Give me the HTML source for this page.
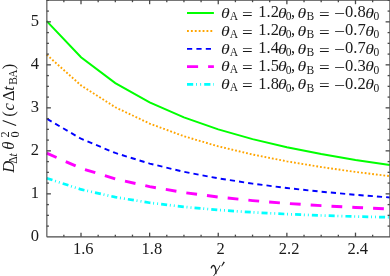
<!DOCTYPE html>
<html><head><meta charset="utf-8"><style>
html,body{margin:0;padding:0;background:#fff;}
body{width:390px;height:276px;overflow:hidden;}
svg{display:block;will-change:transform;}
text{font-family:"Liberation Serif",serif;font-size:16.5px;fill:#1a1a1a;}
.i{font-style:italic;}
.sub{font-size:11.5px;}
.sub2{font-size:12.3px;}
.th2{font-size:16.8px;}
.lg{font-size:16.5px;}
.th{font-size:15.3px;}
</style></head><body>
<svg width="390" height="276" viewBox="0 0 390 276">
<rect width="390" height="276" fill="#fff"/>
<g>
<polyline points="46.70,21.12 81.01,57.29 115.32,83.09 149.63,102.40 183.94,117.39 218.25,129.35 252.56,139.11 286.87,147.22 321.18,154.06 355.49,159.90 389.80,164.94" fill="none" stroke="#00ff00" stroke-width="2.0"/>
<polyline points="46.70,54.71 81.01,85.39 115.32,107.25 149.63,123.58 183.94,136.24 218.25,146.32 252.56,154.53 286.87,161.34 321.18,167.06 355.49,171.94 389.80,176.14" fill="none" stroke="#ffa500" stroke-width="1.9" stroke-dasharray="1.8 1.961"/>
<polyline points="46.70,118.68 81.01,138.73 115.32,152.98 149.63,163.60 183.94,171.82 218.25,178.35 252.56,183.64 286.87,188.02 321.18,191.69 355.49,194.80 389.80,197.46" fill="none" stroke="#0000ff" stroke-width="1.9" stroke-dasharray="5.2 4.05" stroke-dashoffset="-0.5"/>
<polyline points="46.70,153.15 81.01,168.31 115.32,178.92 149.63,186.67 183.94,192.52 218.25,197.04 252.56,200.58 286.87,203.40 321.18,205.66 355.49,207.48 389.80,208.95" fill="none" stroke="#ff00ff" stroke-width="2.9" stroke-dasharray="10.8 10.03"/>
<polyline points="46.70,178.21 81.01,189.43 115.32,197.18 149.63,202.76 183.94,206.88 218.25,209.97 252.56,212.33 286.87,214.12 321.18,215.49 355.49,216.53 389.80,217.30" fill="none" stroke="#00ffff" stroke-width="2.7" stroke-dasharray="6.05 2.75 0.9 3.1 0.9 3.1"/>
</g>
<g stroke="#484848" stroke-width="1.3" fill="none">
<line x1="46.70" y1="0" x2="46.70" y2="236.85" stroke-width="1.1" transform="translate(0.15,0)"/>
<line x1="46.70" y1="236.85" x2="390" y2="236.85"/>
<line x1="46.70" y1="0.2" x2="390" y2="0.2"/>
<line x1="390" y1="0" x2="390" y2="236.85"/>
<line x1="63.86" y1="236.85" x2="63.86" y2="234.65"/>
<line x1="63.86" y1="0.00" x2="63.86" y2="2.20"/>
<line x1="81.01" y1="236.85" x2="81.01" y2="232.65"/>
<line x1="81.01" y1="0.00" x2="81.01" y2="4.20"/>
<line x1="98.16" y1="236.85" x2="98.16" y2="234.65"/>
<line x1="98.16" y1="0.00" x2="98.16" y2="2.20"/>
<line x1="115.32" y1="236.85" x2="115.32" y2="234.65"/>
<line x1="115.32" y1="0.00" x2="115.32" y2="2.20"/>
<line x1="132.48" y1="236.85" x2="132.48" y2="234.65"/>
<line x1="132.48" y1="0.00" x2="132.48" y2="2.20"/>
<line x1="149.63" y1="236.85" x2="149.63" y2="232.65"/>
<line x1="149.63" y1="0.00" x2="149.63" y2="4.20"/>
<line x1="166.79" y1="236.85" x2="166.79" y2="234.65"/>
<line x1="166.79" y1="0.00" x2="166.79" y2="2.20"/>
<line x1="183.94" y1="236.85" x2="183.94" y2="234.65"/>
<line x1="183.94" y1="0.00" x2="183.94" y2="2.20"/>
<line x1="201.09" y1="236.85" x2="201.09" y2="234.65"/>
<line x1="201.09" y1="0.00" x2="201.09" y2="2.20"/>
<line x1="218.25" y1="236.85" x2="218.25" y2="232.65"/>
<line x1="218.25" y1="0.00" x2="218.25" y2="4.20"/>
<line x1="235.40" y1="236.85" x2="235.40" y2="234.65"/>
<line x1="235.40" y1="0.00" x2="235.40" y2="2.20"/>
<line x1="252.56" y1="236.85" x2="252.56" y2="234.65"/>
<line x1="252.56" y1="0.00" x2="252.56" y2="2.20"/>
<line x1="269.71" y1="236.85" x2="269.71" y2="234.65"/>
<line x1="269.71" y1="0.00" x2="269.71" y2="2.20"/>
<line x1="286.87" y1="236.85" x2="286.87" y2="232.65"/>
<line x1="286.87" y1="0.00" x2="286.87" y2="4.20"/>
<line x1="304.03" y1="236.85" x2="304.03" y2="234.65"/>
<line x1="304.03" y1="0.00" x2="304.03" y2="2.20"/>
<line x1="321.18" y1="236.85" x2="321.18" y2="234.65"/>
<line x1="321.18" y1="0.00" x2="321.18" y2="2.20"/>
<line x1="338.34" y1="236.85" x2="338.34" y2="234.65"/>
<line x1="338.34" y1="0.00" x2="338.34" y2="2.20"/>
<line x1="355.49" y1="236.85" x2="355.49" y2="232.65"/>
<line x1="355.49" y1="0.00" x2="355.49" y2="4.20"/>
<line x1="372.65" y1="236.85" x2="372.65" y2="234.65"/>
<line x1="372.65" y1="0.00" x2="372.65" y2="2.20"/>
<line x1="46.70" y1="226.10" x2="48.90" y2="226.10"/>
<line x1="389.80" y1="226.10" x2="387.60" y2="226.10"/>
<line x1="46.70" y1="215.35" x2="48.90" y2="215.35"/>
<line x1="389.80" y1="215.35" x2="387.60" y2="215.35"/>
<line x1="46.70" y1="204.60" x2="48.90" y2="204.60"/>
<line x1="389.80" y1="204.60" x2="387.60" y2="204.60"/>
<line x1="46.70" y1="193.85" x2="50.90" y2="193.85"/>
<line x1="389.80" y1="193.85" x2="385.60" y2="193.85"/>
<line x1="46.70" y1="183.10" x2="48.90" y2="183.10"/>
<line x1="389.80" y1="183.10" x2="387.60" y2="183.10"/>
<line x1="46.70" y1="172.35" x2="48.90" y2="172.35"/>
<line x1="389.80" y1="172.35" x2="387.60" y2="172.35"/>
<line x1="46.70" y1="161.60" x2="48.90" y2="161.60"/>
<line x1="389.80" y1="161.60" x2="387.60" y2="161.60"/>
<line x1="46.70" y1="150.85" x2="50.90" y2="150.85"/>
<line x1="389.80" y1="150.85" x2="385.60" y2="150.85"/>
<line x1="46.70" y1="140.10" x2="48.90" y2="140.10"/>
<line x1="389.80" y1="140.10" x2="387.60" y2="140.10"/>
<line x1="46.70" y1="129.35" x2="48.90" y2="129.35"/>
<line x1="389.80" y1="129.35" x2="387.60" y2="129.35"/>
<line x1="46.70" y1="118.60" x2="48.90" y2="118.60"/>
<line x1="389.80" y1="118.60" x2="387.60" y2="118.60"/>
<line x1="46.70" y1="107.85" x2="50.90" y2="107.85"/>
<line x1="389.80" y1="107.85" x2="385.60" y2="107.85"/>
<line x1="46.70" y1="97.10" x2="48.90" y2="97.10"/>
<line x1="389.80" y1="97.10" x2="387.60" y2="97.10"/>
<line x1="46.70" y1="86.35" x2="48.90" y2="86.35"/>
<line x1="389.80" y1="86.35" x2="387.60" y2="86.35"/>
<line x1="46.70" y1="75.60" x2="48.90" y2="75.60"/>
<line x1="389.80" y1="75.60" x2="387.60" y2="75.60"/>
<line x1="46.70" y1="64.85" x2="50.90" y2="64.85"/>
<line x1="389.80" y1="64.85" x2="385.60" y2="64.85"/>
<line x1="46.70" y1="54.10" x2="48.90" y2="54.10"/>
<line x1="389.80" y1="54.10" x2="387.60" y2="54.10"/>
<line x1="46.70" y1="43.35" x2="48.90" y2="43.35"/>
<line x1="389.80" y1="43.35" x2="387.60" y2="43.35"/>
<line x1="46.70" y1="32.60" x2="48.90" y2="32.60"/>
<line x1="389.80" y1="32.60" x2="387.60" y2="32.60"/>
<line x1="46.70" y1="21.85" x2="50.90" y2="21.85"/>
<line x1="389.80" y1="21.85" x2="385.60" y2="21.85"/>
<line x1="46.70" y1="11.10" x2="48.90" y2="11.10"/>
<line x1="389.80" y1="11.10" x2="387.60" y2="11.10"/>
<line x1="46.70" y1="0.35" x2="48.90" y2="0.35"/>
<line x1="389.80" y1="0.35" x2="387.60" y2="0.35"/>
</g>
<g>
<text x="39" y="240.95" text-anchor="end">0</text>
<text x="39" y="197.95" text-anchor="end">1</text>
<text x="39" y="154.95" text-anchor="end">2</text>
<text x="39" y="111.95" text-anchor="end">3</text>
<text x="39" y="68.95" text-anchor="end">4</text>
<text x="39" y="25.95" text-anchor="end">5</text>
<text x="83.31" y="253.5" text-anchor="middle">1.6</text>
<text x="151.93" y="253.5" text-anchor="middle">1.8</text>
<text x="220.55" y="253.5" text-anchor="middle">2</text>
<text x="289.17" y="253.5" text-anchor="middle">2.2</text>
<text x="357.79" y="253.5" text-anchor="middle">2.4</text>
</g>
<g>
<line x1="187" y1="13.00" x2="213.9" y2="13.00" stroke="#00ff00" stroke-width="2.0"/>
<text transform="translate(221.10,17.85) scale(1.160,1)" class="i th">θ</text>
<text x="229.70" y="19.85" class="sub">A</text>
<text transform="translate(242.00,19.85) scale(1.150,1)" class="lg">=</text>
<text x="258.30" y="17.45" class="lg">1.2</text>
<text transform="translate(278.00,17.85) scale(1.160,1)" class="i th">θ</text>
<text x="285.80" y="20.35" class="sub">0</text>
<text x="291.10" y="17.45" class="lg">,</text>
<text transform="translate(297.50,17.85) scale(1.160,1)" class="i th">θ</text>
<text x="306.40" y="20.35" class="sub">B</text>
<text transform="translate(319.00,19.85) scale(1.150,1)" class="lg">=</text>
<text transform="translate(333.90,19.30) scale(1.180,1)" class="lg">−</text>
<text x="345.00" y="17.45" class="lg">0.8</text>
<text transform="translate(365.30,17.85) scale(1.160,1)" class="i th">θ</text>
<text x="373.60" y="20.35" class="sub">0</text>
<line x1="187" y1="30.95" x2="213.9" y2="30.95" stroke="#ffa500" stroke-width="1.9" stroke-dasharray="1.85 2.05"/>
<text transform="translate(221.10,35.80) scale(1.160,1)" class="i th">θ</text>
<text x="229.70" y="37.80" class="sub">A</text>
<text transform="translate(242.00,37.80) scale(1.150,1)" class="lg">=</text>
<text x="258.30" y="35.40" class="lg">1.2</text>
<text transform="translate(278.00,35.80) scale(1.160,1)" class="i th">θ</text>
<text x="285.80" y="38.30" class="sub">0</text>
<text x="291.10" y="35.40" class="lg">,</text>
<text transform="translate(297.50,35.80) scale(1.160,1)" class="i th">θ</text>
<text x="306.40" y="38.30" class="sub">B</text>
<text transform="translate(319.00,37.80) scale(1.150,1)" class="lg">=</text>
<text transform="translate(333.90,37.25) scale(1.180,1)" class="lg">−</text>
<text x="345.00" y="35.40" class="lg">0.7</text>
<text transform="translate(365.30,35.80) scale(1.160,1)" class="i th">θ</text>
<text x="373.60" y="38.30" class="sub">0</text>
<line x1="187" y1="48.85" x2="213.9" y2="48.85" stroke="#0000ff" stroke-width="1.9" stroke-dasharray="5.2 4.2"/>
<text transform="translate(221.10,53.70) scale(1.160,1)" class="i th">θ</text>
<text x="229.70" y="55.70" class="sub">A</text>
<text transform="translate(242.00,55.70) scale(1.150,1)" class="lg">=</text>
<text x="258.30" y="53.30" class="lg">1.4</text>
<text transform="translate(278.00,53.70) scale(1.160,1)" class="i th">θ</text>
<text x="285.80" y="56.20" class="sub">0</text>
<text x="291.10" y="53.30" class="lg">,</text>
<text transform="translate(297.50,53.70) scale(1.160,1)" class="i th">θ</text>
<text x="306.40" y="56.20" class="sub">B</text>
<text transform="translate(319.00,55.70) scale(1.150,1)" class="lg">=</text>
<text transform="translate(333.90,55.15) scale(1.180,1)" class="lg">−</text>
<text x="345.00" y="53.30" class="lg">0.7</text>
<text transform="translate(365.30,53.70) scale(1.160,1)" class="i th">θ</text>
<text x="373.60" y="56.20" class="sub">0</text>
<line x1="187" y1="66.60" x2="213.9" y2="66.60" stroke="#ff00ff" stroke-width="2.9" stroke-dasharray="11.1 10"/>
<text transform="translate(221.10,71.45) scale(1.160,1)" class="i th">θ</text>
<text x="229.70" y="73.45" class="sub">A</text>
<text transform="translate(242.00,73.45) scale(1.150,1)" class="lg">=</text>
<text x="258.30" y="71.05" class="lg">1.5</text>
<text transform="translate(278.00,71.45) scale(1.160,1)" class="i th">θ</text>
<text x="285.80" y="73.95" class="sub">0</text>
<text x="291.10" y="71.05" class="lg">,</text>
<text transform="translate(297.50,71.45) scale(1.160,1)" class="i th">θ</text>
<text x="306.40" y="73.95" class="sub">B</text>
<text transform="translate(319.00,73.45) scale(1.150,1)" class="lg">=</text>
<text transform="translate(333.90,72.90) scale(1.180,1)" class="lg">−</text>
<text x="345.00" y="71.05" class="lg">0.3</text>
<text transform="translate(365.30,71.45) scale(1.160,1)" class="i th">θ</text>
<text x="373.60" y="73.95" class="sub">0</text>
<line x1="187" y1="84.35" x2="213.9" y2="84.35" stroke="#00ffff" stroke-width="2.7" stroke-dasharray="6.2 2.9 0.9 3.2 0.9 3.1"/>
<text transform="translate(221.10,89.20) scale(1.160,1)" class="i th">θ</text>
<text x="229.70" y="91.20" class="sub">A</text>
<text transform="translate(242.00,91.20) scale(1.150,1)" class="lg">=</text>
<text x="258.30" y="88.80" class="lg">1.8</text>
<text transform="translate(278.00,89.20) scale(1.160,1)" class="i th">θ</text>
<text x="285.80" y="91.70" class="sub">0</text>
<text x="291.10" y="88.80" class="lg">,</text>
<text transform="translate(297.50,89.20) scale(1.160,1)" class="i th">θ</text>
<text x="306.40" y="91.70" class="sub">B</text>
<text transform="translate(319.00,91.20) scale(1.150,1)" class="lg">=</text>
<text transform="translate(333.90,90.65) scale(1.180,1)" class="lg">−</text>
<text x="345.00" y="88.80" class="lg">0.2</text>
<text transform="translate(365.30,89.20) scale(1.160,1)" class="i th">θ</text>
<text x="373.60" y="91.70" class="sub">0</text>
</g>
<g fill="none" stroke="#1a1a1a" stroke-linecap="round"><path d="M211.3,267.9 C211.8,265.3 213.9,264.7 214.9,266.8 C215.9,268.9 216.3,271.4 215.9,273.6" stroke-width="1.35"/><path d="M220.0,265.6 C218.9,268.3 215.4,273.5 213.2,276.5" stroke-width="0.85"/></g><path d="M223.6,261.6 L224.9,262.3 L221.9,266.5 L221.3,266.1 Z" fill="#1a1a1a"/>
<g transform="translate(14.20,0) rotate(-90)"><text x="-172.70" y="0.00" class="i lg">D</text><text x="-163.70" y="2.30" class="sub">Δ</text><text x="-156.50" y="2.30" class="sub i">t</text><text x="-149.80" y="0.00" class="i th2">θ</text><text x="-137.40" y="-4.90" class="sub2">2</text><text x="-137.40" y="5.00" class="sub2">0</text><text x="-116.80" y="0.00" class="lg">(</text><text x="-110.40" y="0.00" class="i lg">c</text><text x="-101.00" y="0.00" class="lg">Δ</text><text x="-90.80" y="0.00" class="i lg">t</text><text x="-84.70" y="2.30" class="sub">B</text><text x="-77.70" y="2.30" class="sub">A</text><text x="-69.30" y="0.00" class="lg">)</text></g><line x1="16.1" y1="125.4" x2="2.7" y2="120.4" stroke="#1a1a1a" stroke-width="1.05"/>
</svg>
</body></html>
